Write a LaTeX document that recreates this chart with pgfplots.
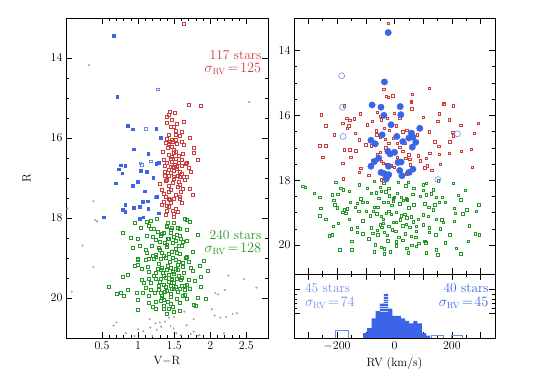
\documentclass[border=0pt]{standalone}
\usepackage{pgfplots}
\pgfplotsset{compat=1.18}
\definecolor{cblue}{RGB}{60,100,230}
\definecolor{clblue}{RGB}{110,140,240}
\definecolor{cred}{RGB}{205,60,60}
\definecolor{cgreen}{RGB}{35,150,35}
\definecolor{cgray}{RGB}{160,160,160}
\pgfplotsset{
  panel/.style={scale only axis, axis line style={black, line width=0.7pt},
    tick style={black, line width=0.5pt}, major tick length=6pt, minor tick length=3pt,
    tick align=inside, ticklabel style={font=\fontsize{12}{14}\selectfont},
    label style={font=\fontsize{12}{14}\selectfont}},
  redsq/.style={only marks, mark=square, mark size=#1, mark options={draw=cred, line width=0.45pt}},
  greensq/.style={only marks, mark=square, mark size=#1, mark options={draw=cgreen, line width=0.45pt}},
}
\newcommand{\ann}{\fontsize{13.5}{13}\selectfont}
\begin{document}
\begin{tikzpicture}[x=1pt,y=1pt]
\path[use as bounding box] (0,0) rectangle (540,382);

% ---------- left: colour-magnitude diagram
\begin{axis}[panel, at={(66pt,44pt)}, anchor=south west, width=202pt, height=320pt,
  xmin=0, xmax=2.8, ymin=13, ymax=21, y dir=reverse,
  xtick={0.5,1,1.5,2,2.5}, minor x tick num=4,
  ytick={14,16,18,20}, minor y tick num=3,
  xlabel={V$-$R}, ylabel={R}, ylabel shift=13pt]
% field stars
\addplot[only marks, mark=*, mark size=0.8pt, cgray] coordinates {
(0.32,14.18) (2.54,15.10) (0.38,17.58) (0.40,18.05) (0.43,18.08) (0.23,18.69) (0.02,17.76)
(0.38,19.23) (0.08,19.84) (2.25,19.44) (2.47,19.53) (2.64,19.74) (2.20,19.80) (2.11,19.91)
(2.07,19.88) (2.02,20.28) (2.06,20.44) (2.14,20.49) (2.22,20.47) (2.37,20.38) (1.64,20.34)
(1.77,20.53) (1.43,20.49) (1.50,20.47) (1.30,20.61) (1.37,20.59) (1.16,20.53) (1.24,20.63)
(1.17,20.74) (1.32,20.72) (1.45,20.70) (1.49,20.76) (1.67,20.68) (0.70,20.61) (0.66,20.69)
(1.00,20.78) (1.07,20.83) (0.83,20.88) (1.26,20.80) (1.77,20.84) (1.73,20.90) (1.83,20.94)
(1.85,20.93) (2.19,20.88) (1.59,20.93) (1.53,20.88) (2.31,20.40) (1.20,20.95) (0.95,20.95)
};
% green sample
\addplot[greensq=1.5pt] coordinates {
(1.65,18.03) (1.68,18.05) (1.26,18.03) (1.18,18.07) (1.12,18.09) (0.95,18.12) (1.41,18.12)
(1.50,18.13) (1.03,18.24) (1.17,18.28) (1.22,18.26) (1.40,18.22) (1.46,18.24) (1.55,18.24)
(1.58,18.28) (1.67,18.30) (0.78,18.37) (1.36,18.36) (1.45,18.38) (1.54,18.41) (1.82,18.41)
(1.12,18.45) (1.20,18.47) (1.31,18.45) (1.41,18.51) (1.50,18.48) (1.59,18.51) (1.00,18.53)
(1.30,18.59) (1.37,18.63) (1.48,18.63) (1.56,18.70) (1.68,18.58) (0.92,18.74) (1.02,18.69)
(1.19,18.69) (1.28,18.74) (1.40,18.72) (1.52,18.78) (1.12,18.88) (1.24,18.91) (1.32,18.86)
(1.43,18.90) (1.53,18.86) (1.67,18.97) (1.14,19.01) (0.99,19.01) (1.24,18.98) (1.38,18.99)
(1.00,19.05) (1.11,19.05) (1.22,19.03) (1.31,19.01) (1.48,19.00) (1.56,19.09) (1.62,19.11)
(1.66,19.00) (1.91,19.07) (1.00,19.18) (1.05,19.26) (1.13,19.22) (1.27,19.26) (1.31,19.30)
(1.41,19.19) (1.45,19.24) (1.52,19.26) (1.62,19.22) (1.73,19.24) (1.76,19.33) (1.96,19.32)
(1.25,19.38) (1.34,19.38) (1.43,19.43) (1.50,19.40) (1.56,19.44) (1.63,19.38) (0.86,19.43)
(0.78,19.47) (1.15,19.51) (1.25,19.53) (1.31,19.53) (1.38,19.49) (1.46,19.53) (1.53,19.51)
(1.59,19.55) (1.70,19.55) (1.78,19.58) (1.87,19.48) (1.08,19.61) (1.18,19.63) (1.29,19.69)
(1.36,19.68) (1.45,19.69) (1.52,19.72) (1.60,19.69) (1.68,19.66) (0.59,19.72) (1.87,19.72)
(0.86,19.80) (0.98,19.86) (1.07,19.88) (1.17,19.80) (1.23,19.86) (1.31,19.86) (1.40,19.83)
(1.50,19.78) (1.58,19.78) (1.65,19.79) (1.72,19.78) (0.76,19.88) (1.64,19.91) (1.14,19.94)
(1.32,19.99) (1.45,19.98) (1.54,20.01) (1.68,20.01) (1.83,19.99) (1.94,20.01) (0.99,20.05)
(1.15,20.12) (1.24,20.09) (1.31,20.08) (1.41,20.09) (1.45,20.15) (1.57,20.12) (1.77,20.18)
(1.36,20.19) (1.35,20.28) (1.25,20.28) (1.43,20.26) (1.58,20.32)
(1.45,18.30) (1.33,18.40) (1.52,18.58) (1.40,18.66) (1.30,18.80) (1.47,18.84) (1.58,18.90)
(1.36,18.95) (1.44,19.10) (1.28,19.14) (1.55,19.18) (1.40,19.30) (1.48,19.34) (1.35,19.45)
(1.60,19.50) (1.42,19.60) (1.50,19.62) (1.30,19.60) (1.38,19.72) (1.55,19.85) (1.45,19.90)
(1.33,19.95) (1.62,19.95) (1.25,18.55) (1.10,18.80) (1.20,18.95) (1.15,19.35) (1.70,19.10)
(1.75,18.85) (1.05,19.55) (0.95,19.20) (1.65,19.70) (1.80,20.20) (1.50,20.35) (1.40,20.40)
(1.20,20.22) (1.10,19.75) (1.58,18.45) (1.27,18.35) (1.37,19.85) (1.46,19.55) (1.52,19.05)
(1.32,19.25) (1.43,18.52) (1.60,18.70) (1.22,19.45) (1.48,20.22) (1.35,20.05) (0.90,18.50)
(0.80,19.95) (1.85,19.20) (0.70,19.90) (1.00,20.30) (1.15,18.20) (1.72,18.10) (1.62,18.60)
(1.39,18.20) (1.47,19.78) (1.28,19.80) (1.55,19.30)
};
% red sample
\addplot[redsq=1.5pt] coordinates {
(1.63,13.15) (1.70,15.16) (1.87,15.19) (1.44,15.34) (1.51,15.38) (1.42,15.43) (1.39,15.47)
(1.63,15.59) (1.54,15.65) (1.45,15.72) (1.50,15.72) (1.52,15.83) (1.42,15.91) (1.52,15.91)
(1.72,15.99) (1.39,16.01) (1.44,16.09) (1.48,16.09) (1.61,16.09) (1.63,16.18) (1.38,16.13)
(1.46,16.22) (1.50,16.30) (1.52,16.34) (1.77,16.24) (1.77,16.36) (1.42,16.43) (1.45,16.51)
(1.52,16.53) (1.60,16.55) (1.82,16.55) (1.56,16.63) (1.39,16.62) (1.66,16.65) (1.37,16.69)
(1.45,16.72) (1.53,16.73) (1.61,16.70) (1.42,16.80) (1.50,16.83) (1.57,16.84) (1.73,16.84)
(1.37,16.95) (1.43,16.94) (1.50,16.97) (1.58,16.98) (1.63,16.98) (1.68,16.98)
(1.38,17.08) (1.50,17.01) (1.56,17.09) (1.42,17.20) (1.55,17.22) (1.33,17.30) (1.45,17.30)
(1.59,17.34) (1.71,17.28) (1.76,17.41) (1.38,17.47) (1.43,17.51) (1.50,17.51) (1.57,17.51)
(1.36,17.59) (1.45,17.62) (1.33,17.68) (1.52,17.76) (1.40,17.83) (1.48,17.83) (1.38,17.93)
(1.50,17.97) (1.42,17.72)
(1.47,16.05) (1.53,16.15) (1.41,16.25) (1.49,16.38) (1.56,16.45) (1.36,16.55) (1.47,16.60)
(1.54,16.78) (1.45,16.88) (1.60,16.90) (1.40,17.05) (1.48,17.12) (1.58,17.18) (1.35,17.40)
(1.52,17.42) (1.61,17.62) (1.39,17.70) (1.55,17.85) (1.44,17.55) (1.62,16.40) (1.47,16.48)
(1.51,16.68) (1.43,16.15) (1.57,15.95) (1.65,17.05) (1.30,17.15) (1.68,16.62) (1.49,17.90)
(1.34,16.35) (1.58,17.47) (1.46,15.55) (1.60,15.85) (1.40,15.62) (1.70,16.75) (1.52,16.05)
(1.43,17.35) (1.55,16.95) (1.48,16.72) (1.62,17.28) (1.37,16.85)
};
% blue, open
\addplot[only marks, mark=square, mark size=1.4pt, mark options={draw=clblue, line width=0.45pt}] coordinates {
(1.27,14.78) (1.10,15.76) (1.05,16.66) (1.17,16.58) (1.03,16.63) (1.24,17.48)
};
% blue, filled
\addplot[only marks, mark=square*, mark size=1.4pt, mark options={draw=cblue, fill=cblue}] coordinates {
(0.66,13.44) (0.71,14.97) (0.85,15.69) (0.93,15.78) (1.25,15.76) (1.31,15.99) (0.94,16.28)
(1.14,16.40) (1.28,16.62) (1.25,16.65) (0.76,16.68) (0.82,16.69) (0.73,16.78) (1.03,16.82)
(1.12,16.84) (0.78,16.88) (1.21,16.99) (0.99,17.09) (0.69,17.13) (0.92,17.19) (1.09,17.33)
(1.26,17.47) (0.82,17.66) (1.06,17.59) (1.13,17.58) (0.79,17.79) (0.82,17.84) (0.94,17.74)
(1.02,17.72) (1.14,17.76) (0.52,17.98) (1.02,18.01) (1.07,17.98) (1.29,17.88)
};
\node[cred, anchor=east, align=right, inner sep=0pt, font=\ann] at (axis cs:2.71,14.11)
  {117 stars\\$\sigma_{\mathrm{RV}}\!=\!125$};
\node[cgreen, anchor=east, align=right, inner sep=0pt, font=\ann] at (axis cs:2.71,18.61)
  {240 stars\\$\sigma_{\mathrm{RV}}\!=\!128$};
\end{axis}

% ---------- right top: R against radial velocity
\begin{axis}[panel, at={(294pt,107.7pt)}, anchor=south west, width=201pt, height=256.3pt,
  xmin=-350, xmax=350, ymin=13, ymax=20.9, y dir=reverse,
  xtick={-300,-200,...,300}, minor x tick num=1, xticklabels={},
  ytick={14,16,18,20}, minor y tick num=3]
\addplot[redsq=1.2pt] coordinates {
(-22,13.16) (-37,15.20) (120,15.17) (62,15.35) (-29,15.42) (-21,15.45) (-6,15.39) (59,15.60)
(172,15.64) (-255,15.98) (-240,16.32) (-260,16.94) (-240,16.94) (-181,16.24) (-176,15.71)
(-166,16.09) (-156,16.16) (-160,16.32) (-164,16.40) (-137,16.55) (-123,16.75) (-96,16.29)
(-78,16.19) (-49,16.02) (-47,16.14) (-26,16.09) (-62,16.60) (-50,16.67) (-32,16.73)
(-20,16.86) (-18,16.45) (6,16.32) (29,16.50) (35,16.86) (9,16.86) (18,16.98) (29,17.11)
(50,17.22) (39,17.32) (53,17.35) (55,17.52) (82,17.25) (90,17.40) (111,17.32) (105,17.61)
(123,17.16) (120,16.50) (140,16.81) (156,17.19) (154,16.96) (150,16.19) (156,15.95)
(191,16.14) (191,17.16) (203,16.52) (205,15.71) (173,15.65) (193,16.81) (232,17.11)
(267,17.04) (277,16.55) (292,16.24) (205,16.63) (-181,17.47) (-179,17.96) (-117,17.63)
(-123,17.76) (-82,17.50) (-76,17.39) (-50,17.14) (-61,17.19) (-82,16.94) (-152,17.29)
(-176,17.06) (-156,17.06) (-135,17.09) (-39,17.47) (-29,17.52) (-47,17.99) (-47,17.42)
(59,15.57) (-2,15.93) (18,16.09) (43,16.45) (-64,16.47) (-12,17.55) (55,17.78) (113,17.55)
(-100,16.90) (-30,17.00) (10,17.30) (80,16.60) (-140,16.10) (130,17.70) (-60,15.90)
(40,17.80) (-210,16.60) (230,16.30) (-5,16.70) (100,16.05) (-90,17.85) (160,17.50)
(-250,17.30) (270,17.60) (60,15.80) (-120,15.95) (0,17.60) (-35,16.40)
};
\addplot[greensq=1.2pt] coordinates {
(-319,18.19) (-310,18.21) (-205,18.07) (-187,18.24) (-179,18.29) (-123,18.14) (-70,18.04)
(-49,18.21) (-38,18.09) (-20,18.24) (12,18.07) (39,18.17) (47,18.07) (67,18.24) (99,18.14)
(111,18.09) (135,18.29) (152,18.01) (205,18.09) (-261,18.52) (-216,18.45) (-198,18.43)
(-158,18.34) (-117,18.57) (-82,18.40) (-64,18.38) (-47,18.34) (-18,18.48) (0,18.52)
(23,18.52) (41,18.57) (64,18.43) (111,18.45) (128,18.42) (146,18.52) (166,18.52)
(222,18.47) (246,18.31) (-257,18.86) (-211,18.62) (-208,18.75) (-176,18.91) (-164,18.88)
(-154,18.67) (-137,18.84) (-111,18.68) (-94,18.67) (-70,18.83) (-59,18.84) (-38,18.68)
(-21,18.67) (-4,18.65) (18,18.72) (44,18.60) (67,18.75) (105,18.73) (119,18.83) (135,18.91)
(156,18.68) (176,18.68) (207,18.86) (252,18.91) (293,18.75) (-261,19.09) (-181,18.98)
(-170,19.01) (-125,18.96) (-99,18.96) (-84,19.09) (-62,19.03) (-47,19.11) (-29,19.01)
(-12,19.04) (6,18.99) (23,19.09) (43,19.16) (59,19.13) (82,19.20) (99,19.06) (117,19.11)
(146,19.20) (164,19.22) (211,19.01) (237,19.03) (284,18.96) (-195,19.32) (-213,19.42)
(-158,19.20) (-129,19.44) (-82,19.47) (-50,19.37) (-39,19.32) (-20,19.42) (-8,19.52)
(6,19.30) (29,19.40) (53,19.45) (76,19.42) (99,19.37) (120,19.47) (160,19.50) (207,19.27)
(-216,19.68) (-228,19.71) (-129,19.61) (-111,19.65) (-76,19.63) (-59,19.68) (-35,19.61)
(-23,19.86) (4,19.58) (37,19.65) (59,19.73) (74,19.76) (105,19.88) (143,19.68) (193,19.68)
(281,19.65) (296,19.68) (-149,19.88) (-47,20.06) (-35,20.11) (-67,19.99) (6,20.02)
(29,19.85) (43,20.09) (76,20.04) (109,19.93) (146,20.14) (176,19.93) (214,20.09) (257,19.88)
(-191,20.14) (-149,20.14) (-35,20.27) (47,20.24) (111,20.24) (150,20.30) (230,20.27)
(-30,18.35) (10,18.40) (-55,18.55) (30,18.62) (-10,18.78) (50,18.85) (-75,18.95)
(-40,19.20) (20,19.22) (-5,19.30) (40,19.35) (-60,19.55) (75,19.58) (-25,19.70) (15,19.75)
(-90,19.80) (90,18.50) (-110,19.25) (120,19.60) (60,20.00) (-15,20.20) (100,18.30)
(-130,18.70) (-20,18.95) (35,19.05) (-45,19.45) (5,19.90) (65,19.28) (-70,20.20) (140,18.75)
(-150,19.50) (170,19.30) (-200,18.85) (230,18.60) (-240,19.20) (260,19.40) (-280,18.40)
(-95,18.25) (85,19.95) (-5,18.55)
};
\addplot[only marks, mark=o, mark size=3pt, mark options={draw=clblue, line width=0.6pt}] coordinates {
(-184,14.78) (-181,15.75) (-179,16.65) (219,16.57) (151,17.98)
};
\addplot[only marks, mark=*, mark size=3.2pt, mark options={draw=cblue, fill=cblue}] coordinates {
(-22,13.45) (-35,14.97) (-78,15.68) (-47,15.75) (20,15.73) (22,15.98) (-37,16.00) (-12,16.29)
(88,16.40) (-43,16.60) (8,16.65) (29,16.81) (59,16.55) (64,16.67) (74,16.83) (62,16.65)
(50,16.70) (-82,16.77) (-67,16.88) (62,16.98) (-23,17.11) (-15,17.19) (0,17.14) (-55,17.32)
(-70,17.42) (12,17.45) (23,17.44) (-21,17.57) (-82,17.57) (18,17.70) (64,17.66) (50,17.76)
(-47,17.76) (-35,17.80) (-20,17.83) (-29,17.96) (-27,17.90) (26,17.86)
};
\end{axis}

% ---------- right bottom: velocity histogram
\begin{axis}[panel, at={(294pt,44pt)}, anchor=south west, width=201pt, height=63.7pt,
  xmin=-350, xmax=350, ymin=0, ymax=26,
  xtick={-300,-200,...,300}, minor x tick num=1,
  xticklabels={,$-200$,,$0$,,$200$,},
  ytick={10,20}, yticklabels={}, minor y tick num=4,
  xlabel={RV (km/s)}]
\addplot[fill=cblue, draw=none, const plot] coordinates {
(-109,2) (-95,4) (-80,8) (-66,11) (-51,14) (-37,18) (-22,12) (-7,9) (7,9) (22,8)
(37,7) (51,6) (66,7) (80,6) (95,2) (110,1) (124,0)
} \closedcycle;
% light seams between stacked counts in the peak bins
\addplot[white!70!cblue, line width=0.4pt] coordinates {(-51,11) (-22,11)};
\addplot[white!70!cblue, line width=0.4pt] coordinates {(-51,12) (-22,12)};
\addplot[white!70!cblue, line width=0.4pt] coordinates {(-51,13) (-22,13)};
\addplot[white!70!cblue, line width=0.4pt] coordinates {(-37,14) (-22,14)};
\addplot[white!70!cblue, line width=0.4pt] coordinates {(-37,15) (-22,15)};
\addplot[white!70!cblue, line width=0.4pt] coordinates {(-37,16) (-22,16)};
\addplot[white!70!cblue, line width=0.4pt] coordinates {(-37,17) (-22,17)};
\addplot[clblue, line width=0.7pt] coordinates {(-205,0) (-205,3) (-160,3) (-160,0)};
\addplot[clblue, line width=0.7pt] coordinates {(130,0) (130,1) (170,1) (170,0)};
\addplot[clblue, line width=0.7pt] coordinates {(197,0) (197,1) (238,1) (238,0)};
\node[clblue, anchor=west, align=left, inner sep=0pt, font=\ann] at (axis cs:-312,17.0)
  {45 stars\\[1pt]$\sigma_{\mathrm{RV}}\!=\!74$};
\node[cblue, anchor=east, align=right, inner sep=0pt, font=\ann] at (axis cs:328,17.0)
  {40 stars\\[1pt]$\sigma_{\mathrm{RV}}\!=\!45$};
\end{axis}
\end{tikzpicture}
\end{document}
